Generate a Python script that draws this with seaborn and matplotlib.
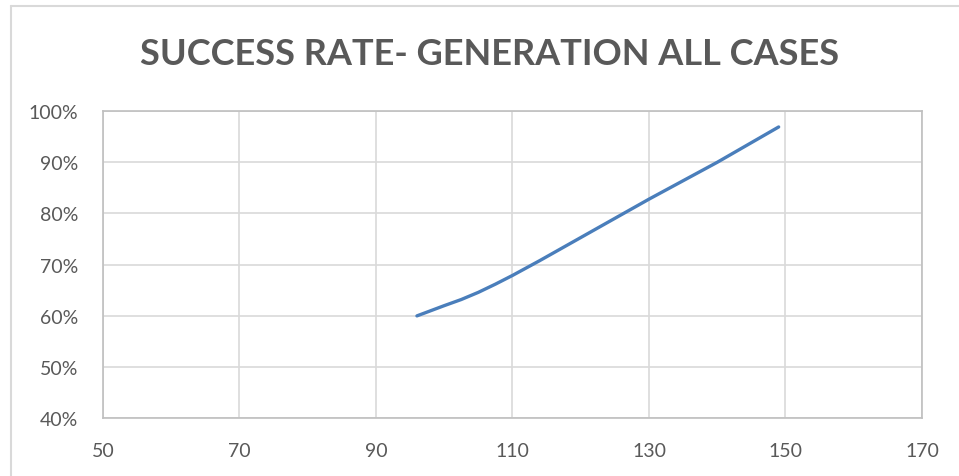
import matplotlib
matplotlib.use("Agg")
import matplotlib.pyplot as plt
from matplotlib.lines import Line2D
from matplotlib.ticker import FuncFormatter
import seaborn as sns
import pandas as pd

# Success rate per generation count
generations = [96, 100, 102.5, 105, 107.5, 110, 114, 120, 130, 140, 149]
success_rate = [60.0, 62.0, 63.2, 64.6, 66.2, 67.9, 70.8, 75.3, 82.8, 90.0, 96.9]

x_ticks = [50, 70, 90, 110, 130, 150, 170]
y_ticks = [40, 50, 60, 70, 80, 90, 100]
title = "SUCCESS RATE- GENERATION ALL CASES"

df = pd.DataFrame({"generation": generations, "rate": success_rate})

sns.set_theme(style="white")
plt.rcParams["font.family"] = ["Lato", "DejaVu Sans"]

text_grey = "#595959"
grid_grey = "#d9d9d9"
spine_grey = "#bfbfbf"

fig = plt.figure(figsize=(9.59, 4.77), dpi=100)
ax = fig.add_axes([0.1074, 0.121, 0.854, 0.644])

sns.lineplot(data=df, x="generation", y="rate", ax=ax, color="#4a7ebb",
             linewidth=2.4, solid_capstyle="round", solid_joinstyle="round")

ax.set_xlim(50, 170)
ax.set_ylim(40, 100)
ax.set_xticks(x_ticks)
ax.set_yticks(y_ticks)
ax.yaxis.set_major_formatter(FuncFormatter(lambda v, _: f"{v:.0f}%"))
ax.grid(True, color=grid_grey, linewidth=1.2)
ax.set_axisbelow(True)
ax.set_xlabel("")
ax.set_ylabel("")
ax.tick_params(axis="both", length=0, labelsize=14, colors=text_grey)
ax.tick_params(axis="x", pad=17)
ax.tick_params(axis="y", pad=18)
for s in ax.spines.values():
    s.set_color(spine_grey)
    s.set_linewidth(1.2)
    s.set_visible(True)

fig.text(0.511, 0.885, title, ha="center", va="center", fontsize=26,
         fontweight="bold", color=text_grey)

# outer chart frame (left and top edges)
fig.add_artist(Line2D([0.0115, 0.0115], [0.0, 0.985], transform=fig.transFigure,
                      color="#d9d9d9", linewidth=1.5))
fig.add_artist(Line2D([0.0115, 1.0], [0.985, 0.985], transform=fig.transFigure,
                      color="#d9d9d9", linewidth=1.5))

fig.savefig("out.png", dpi=100)
